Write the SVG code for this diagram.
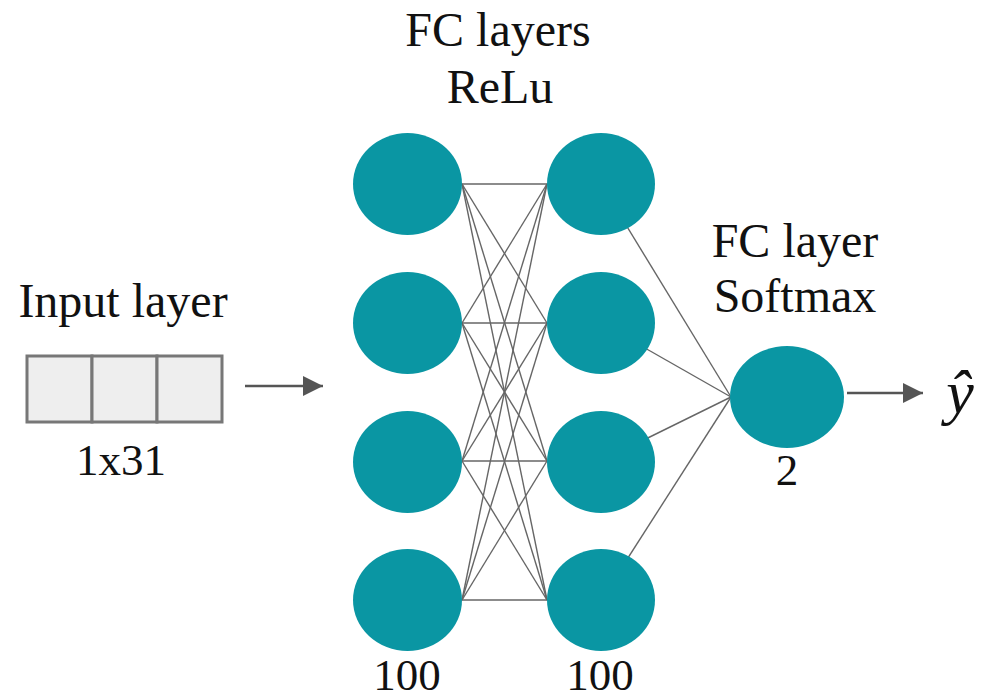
<svg xmlns="http://www.w3.org/2000/svg" width="986" height="700" viewBox="0 0 986 700">
<style>
  .txt{font-size:48px;fill:#111;text-anchor:middle}
  .num{font-size:45px;fill:#111;text-anchor:middle}
  .node{fill:#0a96a3}
  .edge{stroke:#666;stroke-width:1.4;fill:none}
  .arrow{stroke:#555;stroke-width:2.5;fill:none}
  .cell{fill:#eeeeee;stroke:#777;stroke-width:3}
</style>
<defs>
  <marker id="ah" markerUnits="userSpaceOnUse" markerWidth="22" markerHeight="22" refX="20" refY="10" orient="auto">
    <path d="M0,0 L20,10 L0,20 Z" fill="#555"/>
  </marker>
</defs>
<rect width="986" height="700" fill="#ffffff"/>

<g id="connectors">
  <g class="edge">
    <line x1="462" y1="184" x2="547" y2="184"/>
    <line x1="462" y1="184" x2="547" y2="323"/>
    <line x1="462" y1="184" x2="547" y2="461"/>
    <line x1="462" y1="184" x2="547" y2="600"/>
    <line x1="462" y1="323" x2="547" y2="184"/>
    <line x1="462" y1="323" x2="547" y2="323"/>
    <line x1="462" y1="323" x2="547" y2="461"/>
    <line x1="462" y1="323" x2="547" y2="600"/>
    <line x1="462" y1="461" x2="547" y2="184"/>
    <line x1="462" y1="461" x2="547" y2="323"/>
    <line x1="462" y1="461" x2="547" y2="461"/>
    <line x1="462" y1="461" x2="547" y2="600"/>
    <line x1="462" y1="600" x2="547" y2="184"/>
    <line x1="462" y1="600" x2="547" y2="323"/>
    <line x1="462" y1="600" x2="547" y2="461"/>
    <line x1="462" y1="600" x2="547" y2="600"/>
    <line x1="601" y1="184" x2="731" y2="397"/>
    <line x1="601" y1="323" x2="731" y2="397"/>
    <line x1="601" y1="461" x2="731" y2="397"/>
    <line x1="601" y1="600" x2="731" y2="397"/>
  </g>
  <line class="arrow" x1="245" y1="386" x2="323" y2="386" marker-end="url(#ah)"/>
  <line class="arrow" x1="847" y1="393" x2="923" y2="393" marker-end="url(#ah)"/>
</g>

<g font-family="'Liberation Serif', 'Times New Roman', 'DejaVu Serif', serif">
<g id="input">
  <text class="txt" x="123" y="317">Input layer</text>
  <rect class="cell" x="27" y="356" width="65" height="66"/>
  <rect class="cell" x="92" y="356" width="65" height="66"/>
  <rect class="cell" x="157" y="356" width="65" height="66"/>
  <text class="num" x="121" y="475">1x31</text>
</g>

<g id="hidden1">
  <ellipse class="node" cx="407.5" cy="184" rx="54.5" ry="51"/>
  <ellipse class="node" cx="407.5" cy="323" rx="54.5" ry="51"/>
  <ellipse class="node" cx="407.5" cy="462" rx="54.5" ry="51"/>
  <ellipse class="node" cx="407.5" cy="600" rx="54.5" ry="51"/>
  <text class="num" x="407" y="690">100</text>
</g>

<g id="hidden2">
  <ellipse class="node" cx="601" cy="184" rx="54" ry="51"/>
  <ellipse class="node" cx="601" cy="323" rx="54" ry="51"/>
  <ellipse class="node" cx="601" cy="462" rx="54" ry="51"/>
  <ellipse class="node" cx="601" cy="600" rx="54" ry="51"/>
  <text class="num" x="600" y="690">100</text>
</g>

<g id="fc-label">
  <text class="txt" x="498" y="46">FC layers</text>
  <text class="txt" x="500" y="103">ReLu</text>
</g>

<g id="output">
  <text class="txt" x="795" y="257">FC layer</text>
  <text class="txt" x="795" y="312">Softmax</text>
  <ellipse class="node" cx="787" cy="397" rx="57" ry="51"/>
  <text class="num" x="787" y="485">2</text>
</g>

<g id="yhat">
  <text x="960" y="413" font-style="italic" font-size="62" fill="#111" text-anchor="middle">ŷ</text>
</g>
</g>
</svg>
